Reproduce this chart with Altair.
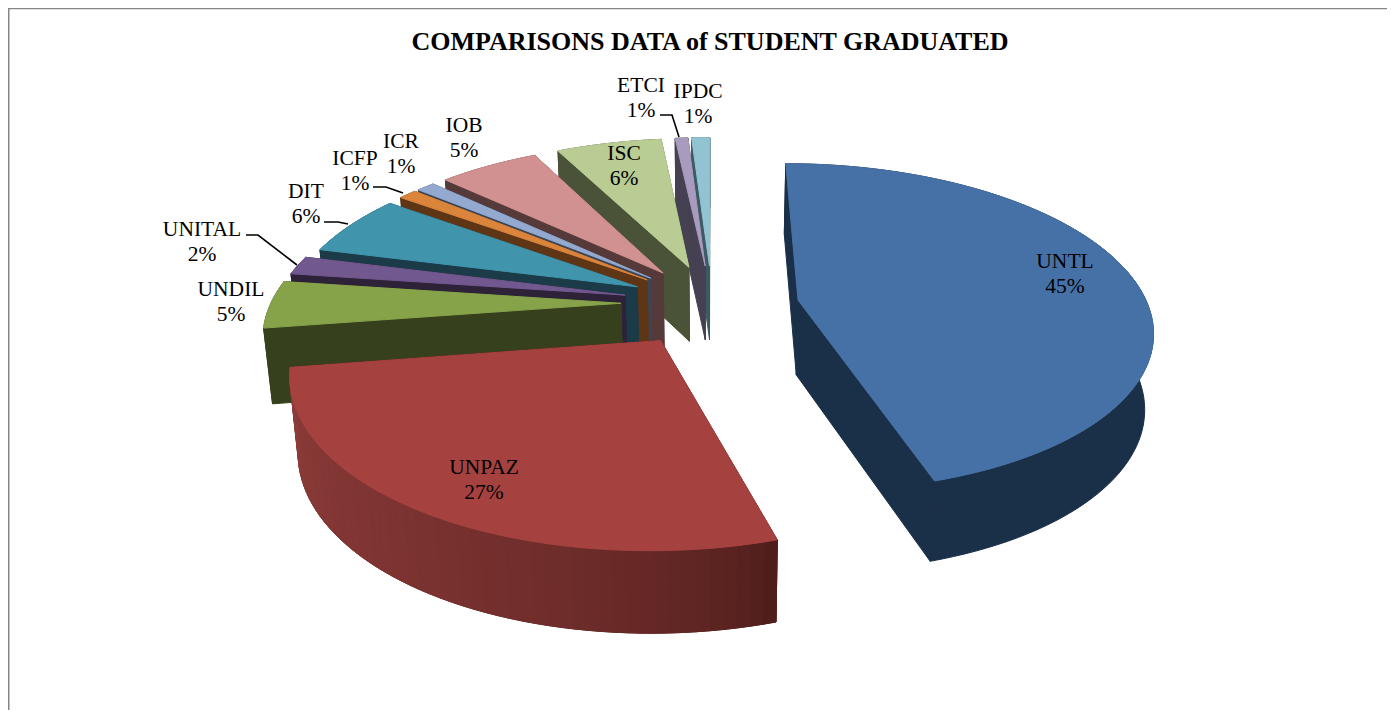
import math
import altair as alt

# ---- values
names = ["UNTL", "UNPAZ", "UNDIL", "UNITAL", "DIT", "ICFP", "ICR", "IOB", "ISC", "ETCI", "IPDC"]
shares = [45.3, 27.3, 4.6, 1.8, 6.0, 1.0, 1.0, 5.5, 5.8, 0.7, 1.0]
percent_labels = [45, 27, 5, 2, 6, 1, 1, 5, 6, 1, 1]

# ---- styles (top colour, wall colour start, wall colour end)
top_colors = ["#4671A6", "#A54240", "#86A34A", "#71588F", "#4095AD", "#DA843C", "#93A9CF", "#D09190", "#B9CC94", "#A99BBD", "#92C3D3"]
wall_a = ["#1A2F48", "#8E3C3A", "#37401C", "#2E2239", "#1A3B47", "#5E3616", "#3A4657", "#563A3A", "#4A5237", "#454052", "#3C5A64"]
wall_b = ["#1A2F48", "#481A17", "#37401C", "#2E2239", "#1A3B47", "#5E3616", "#3A4657", "#563A3A", "#4A5237", "#454052", "#3C5A64"]
explode = [0.25, 0.265, 0.26, 0.255, 0.24, 0.24, 0.24, 0.24, 0.24, 0.24, 0.24]
nudge_y = [3, 0, 0, 0, 0, 0, 0, 0, 0, 0, 0]
draw_order = [10, 9, 8, 7, 6, 5, 4, 3, 2, 0, 1]

# ---- projection of the tilted pie (page pixels, the chart starts at 8,8)
OX, OY = 8, 8
CX, CY, RX, RY, K, BX = 712, 303, 350, 161, 0.167, 0.98


def project(u, v, bottom=False, dy=0):
    s = 1 / (1 + K * v)
    x = CX + RX * u * s * (BX if bottom else 1)
    y = CY + dy - RY * v * s + ((46 + 29 * s) if bottom else 0)
    return [round(x - OX, 2), round(y - OY, 2)]


def mix(a, b, f):
    ca = [int(a[i:i + 2], 16) for i in (1, 3, 5)]
    cb = [int(b[i:i + 2], 16) for i in (1, 3, 5)]
    return "#%02x%02x%02x" % tuple(round(p + (q - p) * f) for p, q in zip(ca, cb))


def feature(points, color):
    ring = points + [points[0]]
    return {"type": "Feature", "properties": {"c": color},
            "geometry": {"type": "Polygon", "coordinates": [ring]}}


total = sum(shares)
starts = []
acc = 0
for v in shares:
    starts.append(acc / total * 2 * math.pi)
    acc += v

features = []
for i in draw_order:
    a0 = starts[i]
    a1 = a0 + shares[i] / total * 2 * math.pi
    mid = (a0 + a1) / 2
    ex, ey = explode[i] * math.sin(mid), explode[i] * math.cos(mid)
    n = max(6, int(shares[i] * 2))
    rim = [(ex + math.sin(a0 + (a1 - a0) * j / n), ey + math.cos(a0 + (a1 - a0) * j / n)) for j in range(n + 1)]
    apex = (ex, ey)
    d = nudge_y[i]
    # radial walls
    for p in (rim[0], rim[-1]):
        features.append(feature([project(*apex, dy=d), project(*p, dy=d), project(*p, True, d), project(*apex, True, d)], wall_b[i]))
    # outer wall: one solid piece, then strips shading along the rim where the colour changes
    outer = [project(*p, dy=d) for p in rim] + [project(*p, True, d) for p in reversed(rim)]
    features.append(feature(outer, mix(wall_a[i], wall_b[i], 0.5)))
    if wall_a[i] != wall_b[i]:
        for j in range(n):
            f = math.sqrt((j + 0.5) / n)
            features.append(feature([project(*rim[j], dy=d), project(*rim[j + 1], dy=d), project(*rim[j + 1], True, d), project(*rim[j], True, d)],
                                    mix(wall_b[i], wall_a[i], f)))
    # top face
    features.append(feature([project(*apex, dy=d)] + [project(*p, dy=d) for p in rim], top_colors[i]))

pie = alt.Chart(alt.InlineData(values={"type": "FeatureCollection", "features": features},
                               format=alt.DataFormat(property="features", type="json"))).mark_geoshape(strokeWidth=1).encode(
    color=alt.Color(field="properties.c", type="nominal", scale=None, legend=None),
    stroke=alt.Stroke(field="properties.c", type="nominal", scale=None, legend=None),
).project(type="identity", scale=1, translate=[0, 0])

# ---- labels and leaders, in page pixels
label_pos = {"UNTL": (1065, 262), "UNPAZ": (484, 468), "UNDIL": (231, 290), "UNITAL": (202, 230), "DIT": (306, 192),
             "ICFP": (355, 159), "ICR": (401, 142), "IOB": (464, 126), "ISC": (624, 154), "ETCI": (641, 86), "IPDC": (698, 92)}
label_rows = []
for nm, sh in zip(names, percent_labels):
    x, y = label_pos[nm]
    label_rows.append({"t": nm, "x": x - OX, "y": y - OY})
    label_rows.append({"t": f"{sh}%", "x": x - OX, "y": y + 25 - OY})
labels = alt.Chart(alt.Data(values=label_rows)).mark_text(font="Liberation Serif", fontSize=21.5, color="#000000", align="center", baseline="middle").encode(
    x=alt.X("x:Q", scale=None), y=alt.Y("y:Q", scale=None), text="t:N")

leaders = {"UNITAL": [(246, 235), (258, 235), (297, 265)], "DIT": [(324, 222), (338, 222), (348, 224)],
           "ICFP": [(373, 187), (386, 187), (403, 193)], "ETCI": [(660, 115), (672, 115), (679, 137)]}
leader_rows = []
for nm, pts in leaders.items():
    for o, (x, y) in enumerate(pts):
        leader_rows.append({"g": nm, "o": o, "x": x - OX, "y": y - OY})
lead = alt.Chart(alt.Data(values=leader_rows)).mark_line(color="#000000", strokeWidth=1.6).encode(
    x=alt.X("x:Q", scale=None), y=alt.Y("y:Q", scale=None), detail="g:N", order="o:Q")

frame_rows = [{"x": 0, "x2": 1379, "y": 0.5, "y2": 0.5}, {"x": 0.75, "x2": 0.75, "y": 0, "y2": 702}]
frame = alt.Chart(alt.Data(values=frame_rows)).mark_rule(color="#868686", strokeWidth=1.5).encode(
    x=alt.X("x:Q", scale=None), x2="x2:Q", y=alt.Y("y:Q", scale=None), y2="y2:Q")

chart = alt.layer(pie, lead, frame, labels).properties(
    width=1379, height=702, padding=0, autosize=alt.AutoSizeParams(type="none"),
    title=alt.TitleParams("COMPARISONS DATA of STUDENT GRADUATED", font="Liberation Serif", fontSize=26, fontWeight="bold",
                          color="#000000", anchor="start", align="center", dx=702, dy=52, frame="group"),
).configure_view(stroke=None).configure(background="#ffffff")

chart.save("out.html", embed_options={"renderer": "svg", "actions": False})
